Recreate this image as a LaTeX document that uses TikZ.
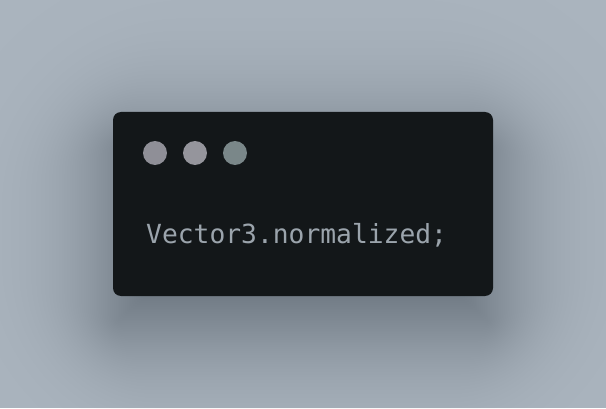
\documentclass[tikz,border=0pt]{standalone}
\usepackage{fontspec}
\newfontfamily\codefont{DejaVu Sans Mono}
\definecolor{bgcol}{HTML}{AAB4BE}
\definecolor{boxcol}{HTML}{131719}
\definecolor{txtcol}{HTML}{9BA4AC}
\definecolor{dotA}{HTML}{8F8F97}
\definecolor{dotB}{HTML}{95959C}
\definecolor{dotC}{HTML}{7A8789}
\tikzset{
  window/.style={fill=boxcol, rounded corners=8pt, minimum width=380pt, minimum height=184pt, inner sep=0pt},
  dot/.style={circle, inner sep=0pt, minimum size=24pt},
  code/.style={font=\codefont\fontsize{26.3}{27}\selectfont, text=txtcol, inner sep=0pt, anchor=base west}
}
\begin{document}
\begin{tikzpicture}[x=1pt,y=1pt]
\useasboundingbox (0,0) rectangle (606,408);
\fill[bgcol] (0,0) rectangle (606,408);
% soft (gaussian-like) shadow, offset downwards
\foreach \i in {1,...,80}{
  \pgfmathsetmacro{\p}{(\i-0.5)/80}
  \pgfmathsetmacro{\e}{36*ln(\p/(1-\p))}
  \pgfmathparse{\e>-70 ? 1 : 0}
  \ifnum\pgfmathresult=1
    \pgfmathsetmacro{\r}{min(max(8+1.5*\e,3),91.5+\e)}
    \fill[black, fill opacity=0.0055, rounded corners=\r pt]
      ({113-\e},{112-30-\e}) rectangle ({493+\e},{296-30+\e});
  \fi
}
\node[window] (win) at (303,204) {};
\node[dot, fill=dotA] (d1) at (155,255) {};
\node[dot, fill=dotB] (d2) at (195,255) {};
\node[dot, fill=dotC] (d3) at (235,255) {};
\node[code] (txt) at (146,164.5) {Vector3.normalized;};
\end{tikzpicture}
\end{document}
